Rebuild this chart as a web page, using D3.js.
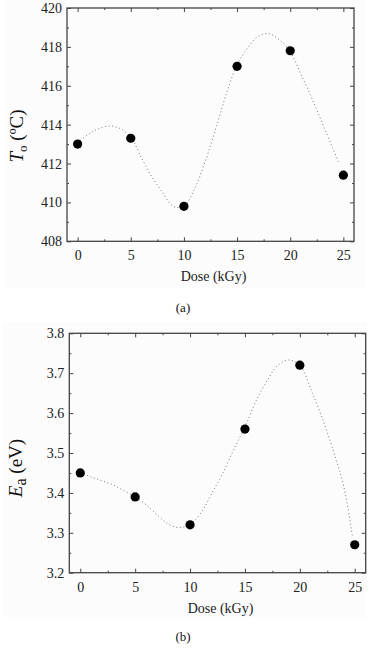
<!DOCTYPE html>
<html>
<head>
<meta charset="utf-8">
<script src="https://cdn.jsdelivr.net/npm/d3@7"></script>
<style>
  body { margin: 0; background: #fff; }
  svg text { font-family: "Liberation Serif", "Times New Roman", serif; }
</style>
</head>
<body>
<svg id="chart" width="376" height="649"></svg>
<script>
const doses = [0, 5, 10, 15, 20, 25];
const onsetTemp = [413.0, 413.3, 409.8, 417.0, 417.8, 411.4];
const activationEnergy = [3.45, 3.39, 3.32, 3.56, 3.72, 3.27];

// dotted guide curves
const fitDoseA = [0, 1, 2, 3, 4, 5, 6, 7, 8, 9, 10, 11, 12, 13, 14, 15, 16, 17, 18, 19, 20, 21, 22, 23, 24, 24.6];
const fitTempA = [413.05, 413.5, 413.8, 413.93, 413.8, 413.35, 412.3, 411.3, 410.5, 409.8, 409.8, 410.7, 412.1, 413.8,
                  415.6, 417.07, 417.95, 418.55, 418.68, 418.35, 417.75, 416.6, 415.4, 414.1, 412.8, 412.0];
const fitDoseB = [0, 1, 2, 3, 4, 5, 6, 7, 8, 9, 10, 11, 12, 13, 14, 15, 16, 17, 18, 19, 20, 21, 22, 23, 24, 24.8];
const fitEnergyB = [3.45, 3.44, 3.43, 3.42, 3.405, 3.39, 3.37, 3.345, 3.322, 3.313, 3.322, 3.35, 3.40, 3.45,
                    3.51, 3.565, 3.63, 3.68, 3.72, 3.733, 3.72, 3.66, 3.59, 3.51, 3.416, 3.29];

const doseTicks = [0, 5, 10, 15, 20, 25];
const doseMinor = [2.5, 7.5, 12.5, 17.5, 22.5];
const tempTicks = [408, 410, 412, 414, 416, 418, 420];
const tempMinor = [409, 411, 413, 415, 417, 419];
const energyTicks = [3.2, 3.3, 3.4, 3.5, 3.6, 3.7, 3.8];
const energyMinor = [3.25, 3.35, 3.45, 3.55, 3.65, 3.75];

const FONT = "'Liberation Serif', 'Times New Roman', serif";
const svg = d3.select("#chart");

function drawPanel(cfg) {
    const g = svg.append("g").attr("font-family", FONT);

    // faint page tint of the pasted figure
    g.append("rect")
        .attr("x", cfg.bg[0]).attr("y", cfg.bg[1])
        .attr("width", cfg.bg[2]).attr("height", cfg.bg[3])
        .attr("fill", "#fcfcfc");

    const x = d3.scaleLinear().domain([-1, 26]).range([cfg.left, cfg.right]);
    const y = d3.scaleLinear().domain(cfg.yDomain).range([cfg.bottom, cfg.top]);

    const addAxis = (axis, transform, labels) => {
        const a = g.append("g").attr("transform", transform).call(axis);
        a.attr("font-family", FONT).attr("font-size", 14);
        a.select(".domain").remove();
        a.selectAll("line").attr("stroke", "#444").attr("stroke-width", 1);
        if (!labels) a.selectAll("text").remove();
        else a.selectAll("text").attr("fill", "#222");
        return a;
    };

    // major ticks, all pointing inward
    addAxis(d3.axisBottom(x).tickValues(doseTicks).tickSize(-4).tickPadding(9),
        `translate(0,${cfg.bottom})`, true);
    addAxis(d3.axisTop(x).tickValues(doseTicks).tickSize(-4), `translate(0,${cfg.top})`, false);
    addAxis(d3.axisLeft(y).tickValues(cfg.yTicks).tickSize(-4).tickPadding(5)
        .tickFormat(cfg.yFormat), `translate(${cfg.left},0)`, true);
    addAxis(d3.axisRight(y).tickValues(cfg.yTicks).tickSize(-4), `translate(${cfg.right},0)`, false);

    // minor ticks
    addAxis(d3.axisBottom(x).tickValues(doseMinor).tickSize(-2), `translate(0,${cfg.bottom})`, false);
    addAxis(d3.axisTop(x).tickValues(doseMinor).tickSize(-2), `translate(0,${cfg.top})`, false);
    addAxis(d3.axisLeft(y).tickValues(cfg.yMinor).tickSize(-2), `translate(${cfg.left},0)`, false);
    addAxis(d3.axisRight(y).tickValues(cfg.yMinor).tickSize(-2), `translate(${cfg.right},0)`, false);

    // frame
    g.append("rect")
        .attr("x", cfg.left).attr("y", cfg.top)
        .attr("width", cfg.right - cfg.left).attr("height", cfg.bottom - cfg.top)
        .attr("fill", "none").attr("stroke", "#444").attr("stroke-width", 1.3);

    // dotted fit
    const line = d3.line()
        .x((d, i) => x(cfg.fitX[i]))
        .y(d => y(d))
        .curve(d3.curveCatmullRom.alpha(0.5));
    g.append("path")
        .attr("d", line(cfg.fitY))
        .attr("fill", "none")
        .attr("stroke", "#777")
        .attr("stroke-width", 1)
        .attr("stroke-dasharray", "1,2.6");

    // data points
    g.selectAll("circle.pt")
        .data(cfg.values)
        .join("circle")
        .attr("class", "pt")
        .attr("cx", (d, i) => x(doses[i]))
        .attr("cy", d => y(d))
        .attr("r", 4.6)
        .attr("fill", "#000");

    // x title
    g.append("text")
        .attr("x", (cfg.left + cfg.right) / 2 + 3)
        .attr("y", cfg.bottom + 40)
        .attr("text-anchor", "middle")
        .attr("font-size", 14)
        .attr("fill", "#222")
        .text("Dose (kGy)");

    // y title
    const yt = g.append("text")
        .attr("transform", `translate(${cfg.yTitleX},${cfg.yTitleY}) rotate(-90)`)
        .attr("text-anchor", "middle")
        .attr("font-size", 19)
        .attr("fill", "#111");
    yt.append("tspan").attr("font-style", "italic").text(cfg.yMain);
    yt.append("tspan").attr("font-size", cfg.subSize).attr("dy", 4).text(cfg.ySub);
    yt.append("tspan").attr("dy", -4).text(cfg.yUnit);

    // panel tag
    g.append("text")
        .attr("x", 183)
        .attr("y", cfg.tagY)
        .attr("text-anchor", "middle")
        .attr("font-size", 13)
        .attr("fill", "#111")
        .text(cfg.tag);
}

drawPanel({
    bg: [5, 0, 362, 288],
    left: 67, right: 354, top: 8, bottom: 241.3,
    yDomain: [408, 420], yTicks: tempTicks, yMinor: tempMinor,
    yFormat: d3.format("d"),
    values: onsetTemp, fitX: fitDoseA, fitY: fitTempA,
    yMain: "T", ySub: "o", yUnit: " (ºC)", subSize: 13,
    yTitleX: 23, yTitleY: 136,
    tag: "(a)", tagY: 312
});

drawPanel({
    bg: [3, 322, 364, 295],
    left: 69.3, right: 365.7, top: 333.3, bottom: 572.7,
    yDomain: [3.2, 3.8], yTicks: energyTicks, yMinor: energyMinor,
    yFormat: d3.format(".1f"),
    values: activationEnergy, fitX: fitDoseB, fitY: fitEnergyB,
    yMain: "E", ySub: "a", yUnit: " (eV)", subSize: 16,
    yTitleX: 22, yTitleY: 468,
    tag: "(b)", tagY: 641
});
</script>
</body>
</html>
